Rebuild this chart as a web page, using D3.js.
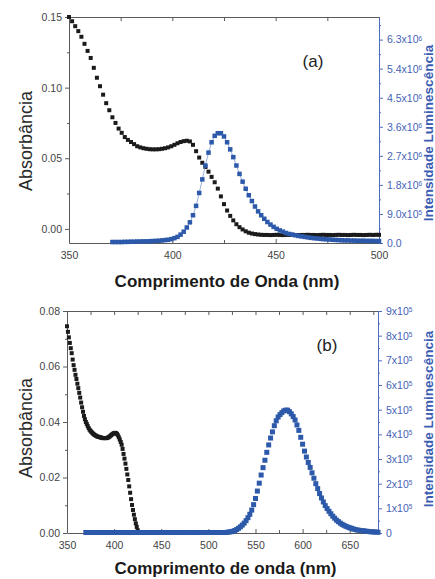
<!DOCTYPE html>
<meta charset="utf-8">
<style>
body { margin: 0; background: #fff; }
svg { display: block; }
text { font-family: "Liberation Sans", Arial, sans-serif; }
.axis path, .axis line { stroke: #5a5a5a; stroke-width: 1; }
.axis text { fill: #444; font-size: 10.5px; }
.raxis path, .raxis line { stroke: #4d6cbd; stroke-width: 1; }
.raxis text { fill: #4563b6; font-size: 10.5px; }
</style>
<body>
<svg width="435" height="579"></svg>
</body>
<script src="https://d3js.org/d3.v7.min.js"></script>
<script>

// ---- panel (a) data ----
// absorbance, 350..500 nm every 1.5 nm
var absAStart = 350, absAStep = 1.5;
var absA = [
  0.150, 0.147, 0.1435, 0.140, 0.136, 0.131, 0.126, 0.121, 0.114, 0.107,
  0.101, 0.095, 0.089, 0.084, 0.079, 0.075, 0.071, 0.068, 0.065, 0.063,
  0.0615, 0.060, 0.0585, 0.0577, 0.0571, 0.0567, 0.0564, 0.0563, 0.0563, 0.0564,
  0.0567, 0.0571, 0.0577, 0.0585, 0.0595, 0.0606, 0.0615, 0.0621, 0.0624, 0.0619,
  0.0595, 0.0550, 0.0505, 0.0468, 0.0438, 0.0405, 0.0368, 0.0330, 0.0285, 0.0230,
  0.0175, 0.0130, 0.0092, 0.0060, 0.0033, 0.0012, -0.0004, -0.0017, -0.0027, -0.0033,
  -0.0037, -0.0040, -0.0042, -0.0043, -0.0043, -0.0044, -0.0043, -0.0042, -0.0043, -0.0044,
  -0.0043, -0.0043, -0.0042, -0.0043, -0.0044, -0.0043, -0.0043, -0.0042, -0.0043, -0.0043,
  -0.0044, -0.0043, -0.0042, -0.0043, -0.0043, -0.0044, -0.0043, -0.0042, -0.0043, -0.0043,
  -0.0044, -0.0043, -0.0042, -0.0043, -0.0043, -0.0044, -0.0043, -0.0042, -0.0043, -0.0042,
  -0.0042
];
// luminescence (x10^6), 371..500 nm every 1.5 nm
var lumAStart = 371, lumAStep = 1.5;
var lumA = [
  0.03, 0.03, 0.03, 0.03, 0.035, 0.035, 0.04, 0.04, 0.045, 0.045,
  0.05, 0.05, 0.055, 0.06, 0.065, 0.07, 0.08, 0.09, 0.10, 0.12,
  0.15, 0.19, 0.26, 0.35, 0.48, 0.64, 0.86, 1.15, 1.55, 1.97,
  2.40, 2.80, 3.12, 3.32, 3.40, 3.40, 3.30, 3.12, 2.90, 2.66,
  2.40, 2.14, 1.90, 1.68, 1.48, 1.30, 1.13, 0.98, 0.86, 0.75,
  0.65, 0.57, 0.50, 0.44, 0.39, 0.35, 0.31, 0.28, 0.26, 0.24,
  0.22, 0.205, 0.19, 0.175, 0.16, 0.15, 0.14, 0.13, 0.12, 0.115,
  0.11, 0.10, 0.095, 0.09, 0.085, 0.08, 0.08, 0.075, 0.075, 0.07,
  0.07, 0.07, 0.065, 0.065, 0.065, 0.06, 0.06
];
var xTicksA = [350, 400, 450, 500];
var xMinorA = [375, 425, 475];
var absTicksA = [0, 0.05, 0.10, 0.15];
var absMinorA = [0.025, 0.075, 0.125];
var lumTicksA = [0, 0.9, 1.8, 2.7, 3.6, 4.5, 5.4, 6.3];
var lumMinorA = [0.45, 1.35, 2.25, 3.15, 4.05, 4.95, 5.85, 6.75];
var lumLabelsA = [["0.0", ""], ["9.0x10", "5"], ["1.8x10", "6"], ["2.7x10", "6"], ["3.6x10", "6"],
                  ["4.5x10", "6"], ["5.4x10", "6"], ["6.3x10", "6"]];

// ---- panel (b) data ----
// absorbance, 350..426 nm every 1 nm
var absBStart = 350, absBStep = 1;
var absB = [
  0.0745, 0.0725, 0.0705, 0.0685, 0.0666, 0.0648, 0.0625, 0.0605, 0.0588, 0.0570,
  0.0555, 0.0538, 0.0522, 0.0505, 0.0488, 0.0470, 0.0453, 0.0437, 0.0422, 0.0410,
  0.0400, 0.0393, 0.0385, 0.0378, 0.0372, 0.0368, 0.0364, 0.0360, 0.0357, 0.0354,
  0.0352, 0.0350, 0.0348, 0.0347, 0.0346, 0.0345, 0.0344, 0.0343, 0.0342, 0.0342,
  0.0342, 0.0342, 0.0342, 0.0343, 0.0345, 0.0347, 0.0350, 0.0353, 0.0356, 0.0358,
  0.0360, 0.0361, 0.0360, 0.0357, 0.0352, 0.0345, 0.0337, 0.0328, 0.0318, 0.0303,
  0.0285, 0.0268, 0.0250, 0.0231, 0.0211, 0.0191, 0.0168, 0.0145, 0.0122, 0.0101,
  0.0083, 0.0066, 0.0050, 0.0035, 0.0022, 0.0010, 0.0002
];
// luminescence (x10^5), 370..680 nm every 2 nm
var lumBStart = 370, lumBStep = 2;
var lumB = [
  0.02, 0.02, 0.02, 0.02, 0.02, 0.02, 0.02, 0.02, 0.02, 0.02, 0.02, 0.02, 0.02, 0.02, 0.02,
  0.02, 0.02, 0.02, 0.02, 0.02, 0.02, 0.02, 0.02, 0.02, 0.02, 0.02, 0.02, 0.02, 0.02, 0.02,
  0.02, 0.02, 0.02, 0.02, 0.02, 0.02, 0.02, 0.02, 0.02, 0.02, 0.02, 0.02, 0.02, 0.02, 0.02,
  0.02, 0.02, 0.02, 0.02, 0.02, 0.02, 0.02, 0.02, 0.02, 0.02, 0.02, 0.02, 0.02, 0.02, 0.02,
  0.02, 0.02, 0.02, 0.02, 0.02, 0.02, 0.02, 0.02, 0.02, 0.02, 0.02, 0.02, 0.02, 0.02, 0.02,
  0.03, 0.04, 0.05, 0.07, 0.10, 0.14, 0.19, 0.25, 0.32, 0.40,
  0.50, 0.62, 0.76, 0.93, 1.15, 1.40, 1.70, 2.02, 2.35, 2.65,
  2.95, 3.27, 3.57, 3.85, 4.10, 4.35, 4.55, 4.70, 4.80, 4.88,
  4.95, 4.98, 4.98, 4.92, 4.83, 4.72, 4.58, 4.38, 4.16, 3.88,
  3.60, 3.32, 3.08, 2.86, 2.66, 2.44, 2.22, 2.00, 1.80, 1.60,
  1.42, 1.26, 1.11, 0.99, 0.88, 0.78, 0.68, 0.60, 0.52, 0.46,
  0.40, 0.35, 0.31, 0.27, 0.24, 0.21, 0.19, 0.16, 0.14, 0.12,
  0.11, 0.10, 0.09, 0.08, 0.07, 0.06, 0.05, 0.05, 0.04, 0.04,
  0.03
];
var xTicksB = [350, 400, 450, 500, 550, 600, 650];
var xMinorB = [375, 425, 475, 525, 575, 625, 675];
var absTicksB = [0, 0.02, 0.04, 0.06, 0.08];
var absMinorB = [0.01, 0.03, 0.05, 0.07];
var lumTicksB = [0, 1, 2, 3, 4, 5, 6, 7, 8, 9];
var lumMinorB = [0.5, 1.5, 2.5, 3.5, 4.5, 5.5, 6.5, 7.5, 8.5];
var lumLabelsB = [["0", ""], ["1x10", "5"], ["2x10", "5"], ["3x10", "5"], ["4x10", "5"],
                  ["5x10", "5"], ["6x10", "5"], ["7x10", "5"], ["8x10", "5"], ["9x10", "5"]];

var svg = d3.select("svg");
var black = "#1b1b1b", blue = "#2c59aa";

function toPoints(start, step, vals) {
  return vals.map(function(v, i) { return { x: start + i * step, v: v }; });
}

function panel(o) {
  var g = svg.append("g");
  var x = d3.scaleLinear().domain(o.xDom).range([o.left, o.right]);
  var y = d3.scaleLinear().domain(o.yDom).range([o.bottom, o.top]);
  var y2 = d3.scaleLinear().domain(o.y2Dom).range([o.bottom, o.top]);

  // bottom (ticks point inward)
  g.append("g").attr("class", "axis").attr("transform", "translate(0," + o.bottom + ")")
    .call(d3.axisBottom(x).tickValues(o.xTicks).tickSize(-4).tickSizeOuter(0).tickPadding(9).tickFormat(d3.format("d")));
  g.append("g").attr("class", "axis").attr("transform", "translate(0," + o.bottom + ")")
    .call(d3.axisBottom(x).tickValues(o.xMinor).tickSize(-3).tickFormat(""))
    .select(".domain").remove();
  // top
  g.append("g").attr("class", "axis").attr("transform", "translate(0," + o.top + ")")
    .call(d3.axisTop(x).tickValues(o.xTicks.concat(o.xMinor)).tickSize(-4).tickSizeOuter(0).tickFormat(""));
  // left
  g.append("g").attr("class", "axis").attr("transform", "translate(" + o.left + ",0)")
    .call(d3.axisLeft(y).tickValues(o.yTicks).tickSize(4).tickSizeOuter(0).tickPadding(3).tickFormat(d3.format(".2f")));
  g.append("g").attr("class", "axis").attr("transform", "translate(" + o.left + ",0)")
    .call(d3.axisLeft(y).tickValues(o.yMinor).tickSize(2).tickFormat(""))
    .select(".domain").remove();
  // right, blue
  var r = g.append("g").attr("class", "raxis").attr("transform", "translate(" + o.right + ",0)")
    .call(d3.axisRight(y2).tickValues(o.y2Ticks).tickSize(4).tickSizeOuter(0).tickPadding(4).tickFormat(""));
  r.selectAll(".tick text").each(function(d, i) {
    var t = d3.select(this), lab = o.y2Labels[i];
    t.text(null);
    t.append("tspan").text(lab[0]);
    if (lab[1]) t.append("tspan").attr("dy", "-0.45em").attr("font-size", "6.5px").text(lab[1]);
  });
  g.append("g").attr("class", "raxis").attr("transform", "translate(" + o.right + ",0)")
    .call(d3.axisRight(y2).tickValues(o.y2Minor).tickSize(2).tickFormat(""))
    .select(".domain").remove();

  // absorbance markers
  g.append("g").selectAll("rect").data(o.abs).join("rect")
    .attr("x", function(d) { return x(d.x) - o.sA / 2; })
    .attr("y", function(d) { return y(d.v) - o.sA / 2; })
    .attr("width", o.sA).attr("height", o.sA).attr("fill", black);

  // luminescence
  if (o.lumLine) {
    g.append("path").datum(o.lum)
      .attr("fill", "none").attr("stroke", "#7f9bd3").attr("stroke-width", 0.8)
      .attr("d", d3.line().x(function(d) { return x(d.x); }).y(function(d) { return y2(d.v); }));
  }
  g.append("g").selectAll("rect").data(o.lum).join("rect")
    .attr("x", function(d) { return x(d.x) - o.sL / 2; })
    .attr("y", function(d) { return y2(d.v) - o.sL / 2; })
    .attr("width", o.sL).attr("height", o.sL).attr("fill", blue);

  // titles
  g.append("text").attr("x", (o.left + o.right) / 2 + 3).attr("y", o.bottom + o.titleOff)
    .attr("text-anchor", "middle").attr("font-size", "17px").attr("font-weight", "bold")
    .attr("fill", "#1a1a1a").text(o.xTitle);
  g.append("text").attr("transform", "translate(32," + o.yMid + ") rotate(-90)")
    .attr("text-anchor", "middle").attr("font-size", "18px").attr("fill", "#2a2a2a").text("Absorbância");
  g.append("text").attr("transform", "translate(433," + o.y2Mid + ") rotate(-90)")
    .attr("text-anchor", "middle").attr("font-size", "13.5px").attr("font-weight", "bold")
    .attr("fill", "#3a5cb2").text("Intensidade Luminescência");
  g.append("text").attr("x", o.tagX).attr("y", o.tagY).attr("text-anchor", "middle")
    .attr("font-size", "17px").attr("fill", "#222").text(o.tag);
}

panel({
  left: 69, right: 379, top: 17, bottom: 243,
  xDom: [350, 500], yDom: [-0.01, 0.15], y2Dom: [0, 7.0],
  xTicks: xTicksA, xMinor: xMinorA, yTicks: absTicksA, yMinor: absMinorA,
  y2Ticks: lumTicksA, y2Minor: lumMinorA, y2Labels: lumLabelsA,
  abs: toPoints(absAStart, absAStep, absA), lum: toPoints(lumAStart, lumAStep, lumA),
  sA: 4, sL: 4.5, lumLine: true, titleOff: 44,
  xTitle: "Comprimento de Onda (nm)", yMid: 141, y2Mid: 133,
  tag: "(a)", tagX: 313, tagY: 67
});

panel({
  left: 67, right: 378, top: 311, bottom: 533,
  xDom: [350, 680], yDom: [0, 0.08], y2Dom: [0, 9],
  xTicks: xTicksB, xMinor: xMinorB, yTicks: absTicksB, yMinor: absMinorB,
  y2Ticks: lumTicksB, y2Minor: lumMinorB, y2Labels: lumLabelsB,
  abs: toPoints(absBStart, absBStep, absB), lum: toPoints(lumBStart, lumBStep, lumB),
  sA: 4, sL: 5, lumLine: false, titleOff: 41,
  xTitle: "Comprimento de onda (nm)", yMid: 428, y2Mid: 419,
  tag: "(b)", tagX: 327, tagY: 351
});

</script>
